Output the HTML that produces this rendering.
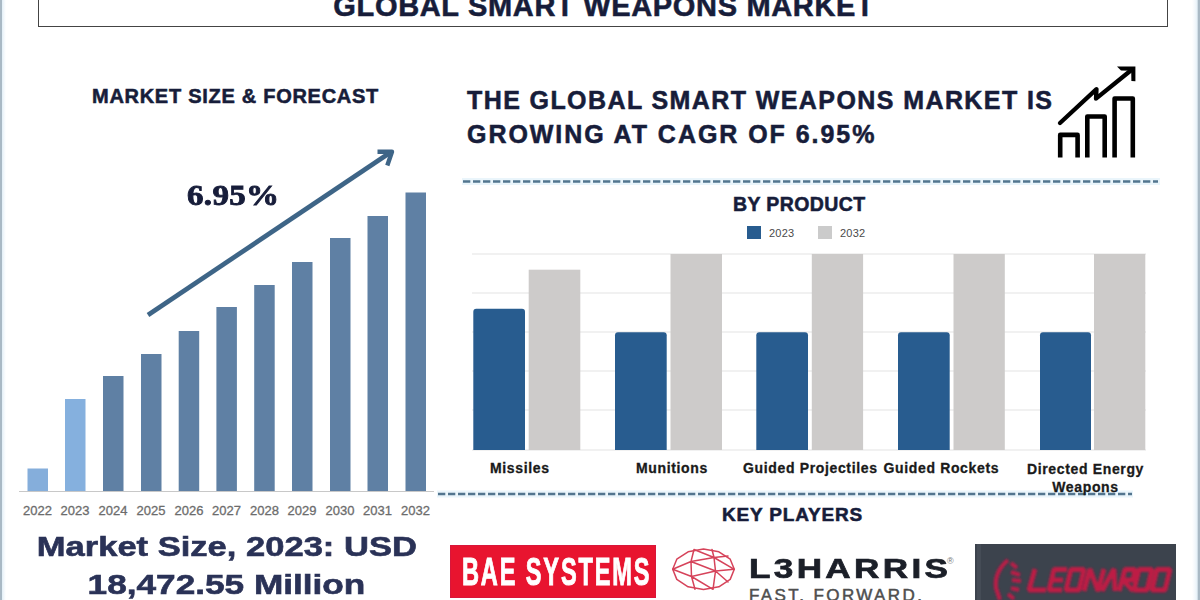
<!DOCTYPE html>
<html>
<head>
<meta charset="utf-8">
<style>
html,body{margin:0;padding:0;}
body{width:1200px;height:600px;overflow:hidden;background:#fff;position:relative;font-family:"Liberation Sans",sans-serif;}
.a{position:absolute;white-space:nowrap;}
.navy{color:#171d3a;-webkit-text-stroke:0.55px #171d3a;}
#edgeL{position:absolute;left:0;top:0;width:6px;height:600px;background:linear-gradient(to right,#a9b9c5 0,#a9b9c5 1.5px,#e6f1f8 2.5px,#f3f8fc 4px,#fff 6px);}
#edgeR{position:absolute;right:0;top:0;width:8px;height:600px;background:linear-gradient(to left,#a9b9c5 0,#a9b9c5 1.5px,#e6f1f8 3px,#f3f8fc 5px,#fff 8px);}
#titlebox{position:absolute;left:38px;top:-4px;width:1128px;height:30px;border:1.6px solid #444;border-top:none;}
.bar{position:absolute;}
.dash{position:absolute;height:3px;}
.lbl{position:absolute;font-weight:700;font-size:14px;color:#1a1a1a;letter-spacing:0.65px;-webkit-text-stroke:0.3px #1a1a1a;white-space:nowrap;}
.yr{position:absolute;font-size:13px;color:#6c6c6c;-webkit-text-stroke:0.3px #6c6c6c;top:503px;width:40px;text-align:center;}
</style>
</head>
<body>
<div id="edgeL"></div>
<div id="edgeR"></div>
<div id="titlebox"></div>
<div class="a navy" style="left:333.3px;top:-9.8px;font-size:29px;font-weight:700;letter-spacing:0.67px;">GLOBAL SMART WEAPONS MARKET</div>

<!-- LEFT -->
<div class="a navy" style="left:92px;top:85px;font-size:20px;font-weight:700;letter-spacing:0.72px;">MARKET SIZE &amp; FORECAST</div>
<div class="a navy" style="left:187px;top:178px;font-family:'Liberation Serif',serif;font-size:30px;font-weight:700;transform:scaleX(1.1);transform-origin:left top;letter-spacing:0.3px;-webkit-text-stroke:0.9px #171d3a;">6.95%</div>

<svg class="a" style="left:0;top:0" width="460" height="600" viewBox="0 0 460 600">
  <g>
    <rect x="27.5" y="468.5" width="20.5" height="22.5" fill="#85aedb"/>
    <rect x="65" y="399" width="20.5" height="92" fill="#85b0de"/>
    <rect x="103" y="376" width="20.5" height="115" fill="#5f80a4"/>
    <rect x="141" y="354" width="20.5" height="137" fill="#5f80a4"/>
    <rect x="178.7" y="331" width="20.5" height="160" fill="#5f80a4"/>
    <rect x="216.4" y="307" width="20.5" height="184" fill="#5f80a4"/>
    <rect x="254.2" y="285" width="20.5" height="206" fill="#5f80a4"/>
    <rect x="292" y="262" width="20.5" height="229" fill="#5f80a4"/>
    <rect x="330" y="238" width="20.5" height="253" fill="#5f80a4"/>
    <rect x="367.5" y="216" width="20.5" height="275" fill="#5f80a4"/>
    <rect x="405.5" y="192.5" width="20.5" height="298.5" fill="#5f80a4"/>
  </g>
  <line x1="19" y1="491.5" x2="434" y2="491.5" stroke="#c8c8c8" stroke-width="1.2"/>
  <path d="M148,315 L391,152" stroke="#3e6587" stroke-width="4.7" stroke-linecap="butt" fill="none"/>
  <path d="M377.5,151.7 L392,151.7 L387.3,165.5" stroke="#3e6587" stroke-width="4.4" stroke-linejoin="round" fill="none"/>
</svg>

<div class="yr" style="left:17.5px">2022</div>
<div class="yr" style="left:55px">2023</div>
<div class="yr" style="left:93px">2024</div>
<div class="yr" style="left:131px">2025</div>
<div class="yr" style="left:169px">2026</div>
<div class="yr" style="left:206.5px">2027</div>
<div class="yr" style="left:244.5px">2028</div>
<div class="yr" style="left:282px">2029</div>
<div class="yr" style="left:320px">2030</div>
<div class="yr" style="left:357.5px">2031</div>
<div class="yr" style="left:395.5px">2032</div>

<div class="a" style="left:0;width:453px;top:527px;text-align:center;font-size:28.5px;font-weight:700;color:#2a3257;line-height:38.4px;-webkit-text-stroke:0.6px #2a3257;">
<span style="display:inline-block;transform:scaleX(1.212);transform-origin:center;">Market Size, 2023: USD</span><br>
<span style="display:inline-block;transform:scaleX(1.235);transform-origin:center;">18,472.55 Million</span>
</div>

<!-- RIGHT -->
<div class="a navy" style="left:467px;top:84px;font-size:25px;font-weight:700;letter-spacing:1.41px;line-height:33.5px;">THE GLOBAL SMART WEAPONS MARKET IS<br><span style="letter-spacing:1.95px">GROWING AT CAGR OF 6.95%</span></div>

<svg class="a" style="left:1040px;top:55px" width="110" height="115" viewBox="1040 55 110 115">
  <g stroke="#000" stroke-width="4.6" fill="none" stroke-linejoin="round">
  <path d="M1060.2,157.5 V134.9 H1077.6 V157.5"/>
  <path d="M1087.3,157.5 V116.5 H1104.7 V157.5"/>
  <path d="M1114.6,157.5 V98.5 H1132.8 V157.5"/>
  </g>
  <path d="M1060,123 L1096.5,89.2 L1096,98.6 L1132,69.5" stroke="#000" stroke-width="4.3" fill="none" stroke-linejoin="round" stroke-linecap="round"/>
  <path d="M1117,66.6 L1135.4,66.6 L1135.4,81.3 L1131.4,81 L1131.2,70.8 L1121,70.6 Z" fill="#000"/>
</svg>

<svg class="a" style="left:0;top:0" width="1200" height="600">
  <line x1="462" y1="181.5" x2="1160" y2="181.5" stroke="#eaf5fb" stroke-width="7"/><line x1="463" y1="181.5" x2="1158" y2="181.5" stroke="#52758f" stroke-width="2.7" stroke-dasharray="7.3 2.7"/>
  <line x1="437" y1="494" x2="1133" y2="494" stroke="#eaf5fb" stroke-width="7"/><line x1="438" y1="494" x2="1132" y2="494" stroke="#52758f" stroke-width="2.7" stroke-dasharray="7.3 2.7"/>
</svg>

<div class="a navy" style="left:733px;top:193px;font-size:19.5px;font-weight:700;letter-spacing:0.4px;">BY PRODUCT</div>
<div class="a" style="left:747px;top:226px;width:13.5px;height:13px;background:#285c8f;"></div>
<div class="a" style="left:769px;top:227px;font-size:11px;color:#4a4a4a;letter-spacing:0.2px;">2023</div>
<div class="a" style="left:818px;top:226px;width:13.5px;height:13px;background:#cbcbcb;"></div>
<div class="a" style="left:840px;top:227px;font-size:11px;color:#4a4a4a;letter-spacing:0.2px;">2032</div>

<svg class="a" style="left:0;top:0" width="1200" height="600">
  <g stroke="#e4e4e4" stroke-width="1.2">
    <line x1="472" y1="254" x2="1146" y2="254"/>
    <line x1="472" y1="293" x2="1146" y2="293"/>
    <line x1="472" y1="332" x2="1146" y2="332"/>
    <line x1="472" y1="371" x2="1146" y2="371"/>
    <line x1="472" y1="410" x2="1146" y2="410"/>
    <line x1="472" y1="450" x2="1146" y2="450"/>
  </g>
  <g fill="#285c8f">
    <path d="M473.3,450 V311.7 Q473.3,308.7 476.3,308.7 H522 Q525,308.7 525,311.7 V450 Z"/>
    <path d="M615,450 V335.3 Q615,332.3 618,332.3 H663.7 Q666.7,332.3 666.7,335.3 V450 Z"/>
    <path d="M756.3,450 V335.3 Q756.3,332.3 759.3,332.3 H805 Q808,332.3 808,335.3 V450 Z"/>
    <path d="M898,450 V335.3 Q898,332.3 901,332.3 H946.7 Q949.7,332.3 949.7,335.3 V450 Z"/>
    <path d="M1040,450 V335.3 Q1040,332.3 1043,332.3 H1088 Q1091,332.3 1091,335.3 V450 Z"/>
  </g>
  <g fill="#cdcbca">
    <rect x="528.7" y="269.7" width="51.6" height="180.3"/>
    <rect x="670.5" y="254" width="51.5" height="196"/>
    <rect x="811.8" y="254" width="51.3" height="196"/>
    <rect x="953.5" y="254" width="51.3" height="196"/>
    <rect x="1094" y="254" width="51.3" height="196"/>
  </g>
</svg>

<div class="lbl" style="left:490px;top:460px;">Missiles</div>
<div class="lbl" style="left:636px;top:460px;">Munitions</div>
<div class="lbl" style="left:743px;top:460px;">Guided Projectiles</div>
<div class="lbl" style="left:883.5px;top:460px;">Guided Rockets</div>
<div class="lbl" style="left:1000px;width:171px;top:460px;line-height:18px;text-align:center;">Directed Energy<br>Weapons</div>

<div class="a navy" style="left:722px;top:503.7px;font-size:19px;font-weight:700;letter-spacing:0.82px;">KEY PLAYERS</div>

<!-- LOGOS -->
<div class="a" style="left:450.3px;top:545px;width:206px;height:52.5px;background:#e8142f;box-shadow:inset 0 0 0 1px #d8163a;"></div>
<div class="a" style="left:462px;top:551px;font-size:38px;font-weight:700;color:#fff;transform:scaleX(0.62);transform-origin:left top;letter-spacing:3px;-webkit-text-stroke:1px #fff;">BAE SYSTEMS</div>

<svg class="a" style="left:665px;top:540px" width="80" height="60" viewBox="665 540 80 60">
  <g stroke="#d6435a" stroke-width="1.5" fill="none" stroke-linejoin="round" stroke-linecap="round">
    <path d="M734.3,569.3 L730.2,579.4 L718.9,586.8 L703.5,589.5 L688.1,586.8 L676.8,579.4 L672.7,569.3 L676.8,559.2 L688.1,551.8 L703.5,549.1 L718.9,551.8 L730.2,559.2 Z"/>
    <path d="M672.7,569.3 L691,561.5 M672.7,569.3 L691.5,576.5 M691,561.5 L714,557.5 M691,561.5 L715.5,571 M691.5,576.5 L715.5,571 M714,557.5 L715.5,571 M714,557.5 L734.3,569.3 M715.5,571 L734.3,569.3 M691,561.5 L694,549.5 M714,557.5 L712,549.5 M691.5,576.5 L695,589.3 M715.5,571 L713,589.3 M694,549.5 L714,557.5 M691,561.5 L691.5,576.5 M691.5,576.5 L713,589.3 M715.5,571 L728,582 M714,557.5 L728,556"/>
  </g>
</svg>
<div class="a" style="left:749px;top:554px;font-size:27px;font-weight:700;color:#1b1f28;letter-spacing:2.58px;transform:scaleX(1.3);-webkit-text-stroke:0.7px #1b1f28;transform-origin:left top;">L3HARRIS</div>
<div class="a" style="left:947px;top:556px;font-size:9px;color:#777;">®</div>
<div class="a" style="left:749px;top:586px;font-size:17px;color:#4e4e4e;letter-spacing:2.4px;-webkit-text-stroke:0.5px #4e4e4e;">FAST. FORWARD.</div>

<div class="a" style="left:975px;top:544px;width:201px;height:56px;background:#3c434d;"></div>
<div class="a" style="left:977px;top:544px;width:4px;height:56px;background:#454c56;"></div>
<svg class="a" style="left:975px;top:544px" width="201" height="56" viewBox="975 544 201 56">
  <defs><filter id="bl" x="-10%" y="-10%" width="120%" height="120%"><feGaussianBlur stdDeviation="0.85"/></filter></defs>
  <g filter="url(#bl)">
  <g stroke="#b81d47" stroke-width="4.2" fill="none" stroke-linecap="butt">
    <path d="M1008,560 Q994,572 996,588 L1000,600"/>
    <path d="M1011,563 L1017,568 M1011,572 L1020,575 M1012,580 L1021,581 M1011,588 L1019,590 M1008,594 L1014,599"/>
  </g>
  <g fill="none" stroke="#bd1b45" stroke-width="4.8" stroke-linejoin="bevel">
    <path d="M1035,569 L1029,590 L1046,590"/>
    <path d="M1067,569.5 L1054,569.5 L1049,590 L1062,590 M1052,580 L1063,580"/>
    <path d="M1071,569.5 L1084,569.5 L1079,590 L1066,590 Z"/>
    <path d="M1084,591 L1090,569 L1098,591 L1104,569"/>
    <path d="M1102,591 L1114,569 L1115,591"/>
    <path d="M1119,591 L1125,569.5 L1135,569.5 L1133,580 L1123,580 L1133,591"/>
    <path d="M1139,569.5 L1152,569.5 L1147,590 L1134,590 Z"/>
    <path d="M1157,569.5 L1170,569.5 L1165,590 L1152,590 Z"/>
  </g>
  </g>
</svg>
</body>
</html>
